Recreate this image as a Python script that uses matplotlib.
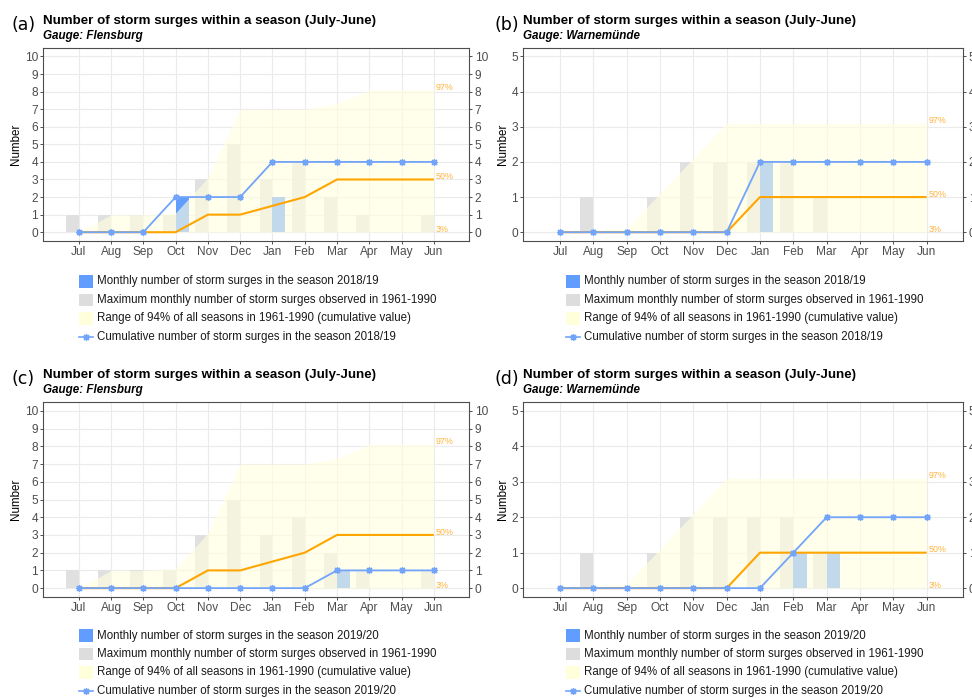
import matplotlib
matplotlib.use("Agg")
import matplotlib.pyplot as plt
import numpy as np
from matplotlib.patches import Rectangle
from matplotlib.lines import Line2D

plt.rcParams['font.family'] = ['Liberation Sans', 'DejaVu Sans']

months = ["Jul", "Aug", "Sep", "Oct", "Nov", "Dec",
          "Jan", "Feb", "Mar", "Apr", "May", "Jun"]

# Reference period 1961-1990: Flensburg
flens_max = [1, 1, 1, 1, 3, 5, 3, 4, 2, 1, 0, 1]
flens_q03 = [0, 0, 0, 0, 0, 0, 0, 0, 0, 0, 0, 0]
flens_q50 = [0, 0, 0, 0, 1, 1, 1.5, 2, 3, 3, 3, 3]
flens_q97 = [0, 1, 1, 1.1, 3.1, 7, 7, 7, 7.3, 8.1, 8.1, 8.1]

# Reference period 1961-1990: Warnemünde
warn_max = [0, 1, 0, 1, 2, 2, 2, 2, 1, 0, 0, 0]
warn_q03 = [0, 0, 0, 0, 0, 0, 0, 0, 0, 0, 0, 0]
warn_q50 = [0, 0, 0, 0, 0, 0, 1, 1, 1, 1, 1, 1]
warn_q97 = [0, 0.06, 0.12, 1.1, 2.1, 3.1, 3.1, 3.1, 3.1, 3.1, 3.1, 3.1]

# Monthly and cumulative counts per season
flens_1819_month = [0, 0, 0, 2, 0, 0, 2, 0, 0, 0, 0, 0]
flens_1819_cum = [0, 0, 0, 2, 2, 2, 4, 4, 4, 4, 4, 4]
warn_1819_month = [0, 0, 0, 0, 0, 0, 2, 0, 0, 0, 0, 0]
warn_1819_cum = [0, 0, 0, 0, 0, 0, 2, 2, 2, 2, 2, 2]
flens_1920_month = [0, 0, 0, 0, 0, 0, 0, 0, 1, 0, 0, 0]
flens_1920_cum = [0, 0, 0, 0, 0, 0, 0, 0, 1, 1, 1, 1]
warn_1920_month = [0, 0, 0, 0, 0, 0, 0, 1, 1, 0, 0, 0]
warn_1920_cum = [0, 0, 0, 0, 0, 0, 0, 1, 2, 2, 2, 2]

W, H = 972, 698
fig = plt.figure(figsize=(W / 100, H / 100), dpi=100)


def fx(px):
    return px / W


def fy(py):
    return 1 - py / H


BLUE = '#619CFF'
LINE_BLUE = '#72A4FA'
GREY = '#E0E0E0'
RIBBON = '#FFFFE0'
ORANGE = '#FFA500'
PCT = '#FFB43C'
TICK_GREY = '#4D4D4D'
TITLE = "Number of storm surges within a season (July-June)"


def panel(left, top, right, bottom, letter, gauge, season, vmax, q03, q50,
          q97, month_vals, cum_vals, ymax, leg_x, leg_y0):
    ax = fig.add_axes([fx(left), fy(bottom), fx(right - left),
                       (bottom - top) / H])
    x = np.arange(1, 13)
    ax.bar(x, vmax, width=-0.4, align='edge', color=GREY, lw=0, zorder=1)
    ax.bar(x, month_vals, width=0.4, align='edge', color=BLUE, lw=0, zorder=2)
    ax.fill_between(x, q03, q97, color=RIBBON, alpha=0.62, lw=0, zorder=3)
    ax.plot(x, q50, color=ORANGE, lw=1.5, zorder=4, solid_capstyle='butt')
    ax.plot(x, cum_vals, color=LINE_BLUE, lw=1.3, zorder=5,
            marker=(8, 2, 0), ms=5, mew=0.9, mec=LINE_BLUE)
    for lab, vals in (("97%", q97), ("50%", q50), ("3%", q03)):
        ax.annotate(lab, (12, vals[-1]), xytext=(1.5, 2),
                    textcoords='offset points', ha='left', va='center',
                    fontsize=6.4, color=PCT, annotation_clip=False, zorder=6)

    ax.set_xlim(-0.1, 13.1)
    pad = ymax * 0.05
    ax.set_ylim(-pad, ymax + pad)
    ax.set_xticks(x)
    ax.set_xticklabels(months)
    ax.set_yticks(np.arange(0, ymax + 1))
    ax.tick_params(axis='both', length=2.4, width=0.6, color='#333333',
                   labelsize=8.6, labelcolor=TICK_GREY, pad=1.5)
    ax.tick_params(axis='y', right=True, labelright=True)
    ax.grid(True, color='#EBEBEB', lw=0.8)
    ax.set_axisbelow(True)
    for sp in ax.spines.values():
        sp.set_color('#4D4D4D')
        sp.set_linewidth(0.8)

    fig.text(fx(left - 27 if ymax > 5 else left - 20), fy((top + bottom) / 2),
             "Number", rotation=90, ha='center', va='center', fontsize=8.4)
    fig.text(fx(left), fy(top - 24), TITLE, fontsize=9.6, fontweight='bold',
             ha='left', va='baseline')
    fig.text(fx(left), fy(top - 9), "Gauge: " + gauge, fontsize=8.4,
             fontweight='bold', fontstyle='italic', ha='left', va='baseline')
    fig.text(fx(left - 32 if ymax > 5 else left - 29), fy(top - 23),
             "(" + letter + ")", fontsize=12.5, family='DejaVu Sans',
             ha='left', va='center')

    # legend below the panel
    entries = [
        ("patch", BLUE, "Monthly number of storm surges in the season " + season),
        ("patch", '#DDDDDD', "Maximum monthly number of storm surges observed in 1961-1990"),
        ("patch", '#FFFFDC', "Range of 94% of all seasons in 1961-1990 (cumulative value)"),
        ("line", LINE_BLUE, "Cumulative number of storm surges in the season " + season),
    ]
    for i, (kind, col, txt) in enumerate(entries):
        yc = leg_y0 + i * 18.5
        if kind == "patch":
            fig.patches.append(Rectangle((fx(leg_x), fy(yc + 6.2)),
                                         14 / W, 12.4 / H, color=col, lw=0,
                                         transform=fig.transFigure))
        else:
            fig.lines.append(Line2D([fx(leg_x), fx(leg_x + 14)], [fy(yc), fy(yc)],
                                    color=col, lw=1.2,
                                    transform=fig.transFigure))
            fig.lines.append(Line2D([fx(leg_x + 7)], [fy(yc)], color=col,
                                    marker=(8, 2, 0), ms=5, mew=0.9, lw=0,
                                    transform=fig.transFigure))
        fig.text(fx(leg_x + 18), fy(yc), txt, fontsize=8.3, ha='left',
                 va='center', color='#1A1A1A')
    return ax


panel(43.3, 47.7, 469.3, 241, "a", "Flensburg", "2018/19", flens_max,
      flens_q03, flens_q50, flens_q97, flens_1819_month, flens_1819_cum,
      10, 79, 281.3)
panel(523.3, 47.7, 963.3, 241, "b", "Warnemünde", "2018/19", warn_max,
      warn_q03, warn_q50, warn_q97, warn_1819_month, warn_1819_cum,
      5, 566, 281.3)
panel(43.3, 402, 469.3, 597, "c", "Flensburg", "2019/20", flens_max,
      flens_q03, flens_q50, flens_q97, flens_1920_month, flens_1920_cum,
      10, 79, 635.5)
panel(523.3, 402, 963.3, 597, "d", "Warnemünde", "2019/20", warn_max,
      warn_q03, warn_q50, warn_q97, warn_1920_month, warn_1920_cum,
      5, 566, 635.5)

fig.savefig("out.png", dpi=100)
